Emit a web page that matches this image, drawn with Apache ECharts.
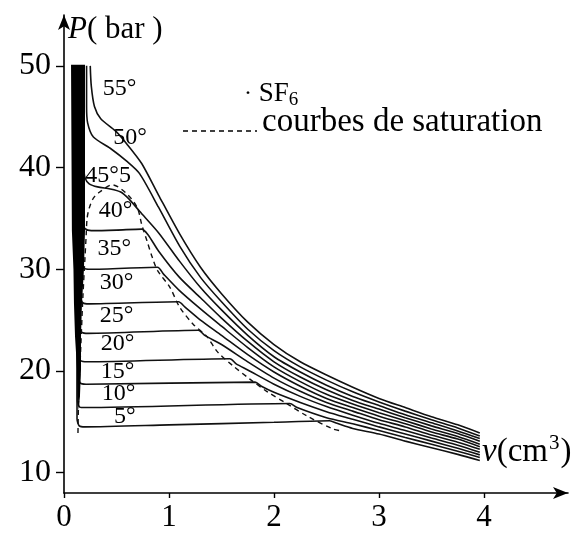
<!DOCTYPE html>
<html>
<head>
<meta charset="utf-8">
<script src="https://cdn.jsdelivr.net/npm/echarts@6/dist/echarts.min.js"></script>
<style>html,body{margin:0;padding:0;background:#fff}#c{width:584px;height:533px}</style>
</head>
<body>
<div id="c"></div>
<script>
// ---- data (v in cm3, P in bar) ----
const xTicks = [0, 1, 2, 3, 4];
const yTicks = [10, 20, 30, 40, 50];

const iso55 = [[0.25,50],[0.26,48],[0.29,46],[0.35,44.8],[0.49,43.6],[0.6,42.3],[0.74,40.4],[0.9,37.3],[1.1,33.5],[1.3,30.2],[1.5,27.6],[1.75,24.8],[2.0,22.6],[2.25,20.9],[2.5,19.6],[2.75,18.4],[3.0,17.3],[3.25,16.4],[3.5,15.5],[3.75,14.7],[3.96,13.9]];
const iso50 = [[0.215,50],[0.215,46],[0.225,44.4],[0.28,43.0],[0.44,41.9],[0.6,40.6],[0.72,39.4],[0.9,36.1],[1.1,32.3],[1.3,29.2],[1.5,26.8],[1.75,24.1],[2.0,22.0],[2.25,20.4],[2.5,19.1],[2.75,17.95],[3.0,16.95],[3.25,16.05],[3.5,15.2],[3.75,14.4],[3.96,13.6]];
const iso455 = [[0.19,50],[0.19,40],[0.2,39.0],[0.24,38.4],[0.32,38.1],[0.44,37.9],[0.54,37.6],[0.62,36.9],[0.72,35.7],[0.9,33.6],[1.1,30.8],[1.3,28.2],[1.5,26.0],[1.75,23.5],[2.0,21.4],[2.25,19.9],[2.5,18.6],[2.75,17.5],[3.0,16.6],[3.25,15.7],[3.5,14.9],[3.75,14.1],[3.96,13.35]];
const iso40 = [[0.18,50],[0.18,34.6],[0.2,34.0],[0.26,33.8],[0.5,33.85],[0.74,33.95],[0.8,33.4],[0.9,31.8],[1.1,29.2],[1.3,27.2],[1.5,25.2],[1.75,22.9],[2.0,20.9],[2.25,19.4],[2.5,18.15],[2.75,17.1],[3.0,16.25],[3.25,15.4],[3.5,14.6],[3.75,13.85],[3.96,13.1]];
const iso35 = [[0.17,50],[0.17,30.8],[0.19,30.1],[0.25,30.0],[0.89,30.2],[0.95,29.5],[1.1,27.9],[1.3,26.1],[1.5,24.4],[1.75,22.3],[2.0,20.4],[2.25,18.95],[2.5,17.7],[2.75,16.75],[3.0,15.9],[3.25,15.1],[3.5,14.3],[3.75,13.55],[3.96,12.8]];
const iso30 = [[0.16,50],[0.16,27.4],[0.18,26.7],[0.24,26.6],[1.09,26.8],[1.15,26.3],[1.3,25.0],[1.5,23.5],[1.75,21.6],[2.0,19.9],[2.25,18.5],[2.5,17.3],[2.75,16.4],[3.0,15.55],[3.25,14.8],[3.5,14.0],[3.75,13.3],[3.96,12.55]];
const iso25 = [[0.15,50],[0.15,24.5],[0.17,23.8],[0.23,23.7],[1.28,24.0],[1.34,23.5],[1.5,22.6],[1.75,20.9],[2.0,19.3],[2.25,18.0],[2.5,16.9],[2.75,16.05],[3.0,15.2],[3.25,14.5],[3.5,13.7],[3.75,13.0],[3.96,12.3]];
const iso20 = [[0.14,50],[0.14,21.7],[0.16,21.0],[0.22,20.9],[1.58,21.2],[1.64,20.7],[1.75,20.1],[2.0,18.7],[2.25,17.5],[2.5,16.5],[2.75,15.65],[3.0,14.85],[3.25,14.15],[3.5,13.4],[3.75,12.7],[3.96,12.0]];
const iso15 = [[0.135,50],[0.135,19.5],[0.155,18.8],[0.21,18.7],[1.82,18.9],[1.88,18.5],[2.0,17.9],[2.25,16.9],[2.5,16.0],[2.75,15.25],[3.0,14.5],[3.25,13.8],[3.5,13.1],[3.75,12.4],[3.96,11.75]];
const iso10 = [[0.128,50],[0.128,17.1],[0.15,16.45],[0.2,16.4],[2.15,16.8],[2.22,16.4],[2.5,15.4],[2.75,14.8],[3.0,14.15],[3.25,13.45],[3.5,12.8],[3.75,12.1],[3.96,11.5]];
const iso5 = [[0.124,50],[0.124,15.3],[0.145,14.6],[0.2,14.5],[1.0,14.7],[2.0,14.95],[2.53,15.1],[2.6,14.85],[2.75,14.35],[3.0,13.8],[3.25,13.1],[3.5,12.45],[3.75,11.8],[3.96,11.2]];

// saturation dome (dashed)
const satCurve = [[0.133,13.9],[0.14,17.5],[0.16,22.4],[0.18,27.3],[0.20,31.2],[0.21,33.1],[0.22,35.0],[0.24,36.0],[0.28,37.0],[0.34,37.6],[0.46,38.3],[0.61,37.3],[0.70,36.0],[0.74,34.4],[0.79,32.8],[0.84,31.2],[0.89,29.9],[1.01,28.2],[1.10,26.3],[1.23,24.6],[1.36,23.4],[1.46,21.9],[1.61,20.5],[1.77,19.2],[1.93,18.0],[2.12,16.8],[2.31,15.6],[2.56,14.3],[2.65,14.1]];

// dense liquid band (overlapping liquid branches)
const liquidBand = [[0.067,50.1],[0.2,50.1],[0.2,33.8],[0.19,30],[0.171,26.6],[0.162,23.4],[0.162,20.2],[0.152,17.5],[0.138,16.1],[0.133,17.5],[0.124,20.2],[0.105,23.4],[0.095,26.6],[0.09,30],[0.075,33.8]];

const isoNames = ['55°','50°','45°5','40°','35°','30°','25°','20°','15°','10°','5°'];
const labelV = [0.53,0.63,0.42,0.49,0.48,0.50,0.50,0.51,0.51,0.52,0.58];
const labelP = [47.8,42.9,39.2,35.8,32.0,28.7,25.4,22.7,19.9,17.8,15.5];

const isotherms = [iso55, iso50, iso455, iso40, iso35, iso30, iso25, iso20, iso15, iso10, iso5];

// ---- chart ----
const FONT = 'Liberation Serif';
const ink = '#000';
const chart = echarts.init(document.getElementById('c'), null, {renderer: 'canvas'});

const series = [];
series.push({
  type: 'custom', data: liquidBand, silent: true, z: 3,
  renderItem: function (params, api) {
    if (params.dataIndex !== 0) return;
    const pts = liquidBand.map(p => api.coord(p));
    return {type: 'polygon', shape: {points: pts}, style: {fill: '#000'}};
  }
});
isotherms.forEach((d, i) => {
  series.push({
    type: 'line', name: isoNames[i], data: d, showSymbol: false, smooth: 0.25,
    lineStyle: {color: '#111', width: 1.6}, silent: true, z: 2
  });
});
series.push({
  type: 'line', name: 'sat', data: satCurve, showSymbol: false, smooth: 0.3,
  lineStyle: {color: '#111', width: 1.4, type: [5, 4]}, silent: true, z: 2
});

const labelGraphics = isoNames.map((t, i) => ({
  type: 'text', z: 10,
  style: {text: t, fill: ink, fontFamily: FONT, fontSize: 24, align: 'center', verticalAlign: 'middle'}
}));

chart.setOption({
  animation: false,
  backgroundColor: '#fff',
  grid: {left: 64, top: 15, width: 504, height: 483},
  xAxis: {
    type: 'value', min: 0, max: 4.8,
    axisLine: {show: true, symbol: ['none', 'arrow'], symbolSize: [9, 15], lineStyle: {color: ink, width: 1.6}},
    axisTick: {show: true, customValues: xTicks, length: 5, lineStyle: {color: ink, width: 1.4}},
    axisLabel: {customValues: xTicks, margin: 9, fontFamily: FONT, fontSize: 31, color: ink},
    splitLine: {show: false}
  },
  yAxis: {
    type: 'value', min: 8, max: 55,
    axisLine: {show: true, symbol: ['none', 'arrow'], symbolSize: [9, 15], lineStyle: {color: ink, width: 1.6}},
    axisTick: {show: true, customValues: yTicks, length: 8, lineStyle: {color: ink, width: 1.4}},
    axisLabel: {customValues: yTicks, margin: 13, fontFamily: FONT, fontSize: 32, color: ink},
    splitLine: {show: false}
  },
  graphic: [
    {type: 'text', left: 68, top: 14, style: {
      text: '{i|P}{n|( bar )}', fill: ink,
      rich: {i: {fontFamily: FONT, fontStyle: 'italic', fontSize: 31, fill: ink},
             n: {fontFamily: FONT, fontSize: 31, fill: ink}}}},
    {type: 'text', left: 482, top: 433, style: {
      text: '{i|v}{n|(cm}{s|3}{n|)}', fill: ink,
      rich: {i: {fontFamily: FONT, fontStyle: 'italic', fontSize: 33, fill: ink, verticalAlign: 'bottom'},
             n: {fontFamily: FONT, fontSize: 33, fill: ink, verticalAlign: 'bottom'},
             s: {fontFamily: FONT, fontSize: 21, fill: ink, verticalAlign: 'top', padding: [0, 1, 15, 1]}}}},
    {type: 'text', left: 244, top: 80, style: {
      text: '{d|·}  {n|SF}{s|6}', fill: ink,
      rich: {d: {fontFamily: FONT, fontSize: 24, fill: ink},
             n: {fontFamily: FONT, fontSize: 27, fill: ink},
             s: {fontFamily: FONT, fontSize: 19, fill: ink, padding: [14, 0, 0, 0]}}}},
    {type: 'line', shape: {x1: 183, y1: 131, x2: 257, y2: 131}, style: {stroke: ink, lineWidth: 1.4, lineDash: [5, 4]}},
    {type: 'text', left: 262, top: 106, style: {text: 'courbes de saturation', fill: ink, fontFamily: FONT, fontSize: 33}}
  ],
  series: series
});

// isotherm labels positioned from their (v, P) anchors through the chart's own scales
chart.setOption({
  graphic: labelGraphics.map((g, i) => {
    const pt = chart.convertToPixel({gridIndex: 0}, [labelV[i], labelP[i]]);
    return Object.assign({id: 'lab' + i, x: pt[0], y: pt[1]}, g);
  })
});
</script>
</body>
</html>
